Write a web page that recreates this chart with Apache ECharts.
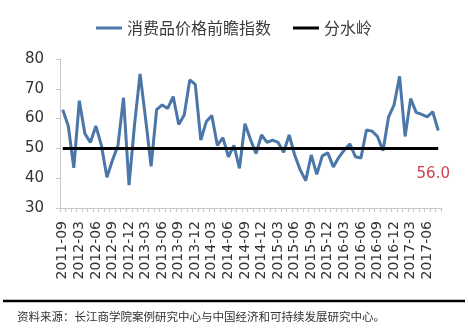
<!DOCTYPE html>
<html>
<head>
<meta charset="utf-8">
<script src="https://cdn.jsdelivr.net/npm/echarts@6/dist/echarts.min.js"></script>
<style>
  html, body { margin: 0; padding: 0; background: #fff; }
  #chart { width: 468px; height: 332px; }
</style>
</head>
<body>
<div id="chart"></div>
<script>
// Month labels along the x axis
const months = [
  '2011-09', '2012-01', '2012-02', '2012-03', '2012-04', '2012-05', '2012-06', '2012-07', '2012-08', '2012-09',
  '2012-10', '2012-11', '2012-12', '2013-01', '2013-02', '2013-03', '2013-04', '2013-05', '2013-06', '2013-07',
  '2013-08', '2013-09', '2013-10', '2013-11', '2013-12', '2014-01', '2014-02', '2014-03', '2014-04', '2014-05',
  '2014-06', '2014-07', '2014-08', '2014-09', '2014-10', '2014-11', '2014-12', '2015-01', '2015-02', '2015-03',
  '2015-04', '2015-05', '2015-06', '2015-07', '2015-08', '2015-09', '2015-10', '2015-11', '2015-12', '2016-01',
  '2016-02', '2016-03', '2016-04', '2016-05', '2016-06', '2016-07', '2016-08', '2016-09', '2016-10', '2016-11',
  '2016-12', '2017-01', '2017-02', '2017-03', '2017-04', '2017-05', '2017-06', '2017-07', '2017-08'
];

// 消费品价格前瞻指数 monthly readings
const priceIndex = [
  63.0, 57.5, 43.5, 66.0, 55.0, 52.0, 57.5, 51.0, 40.3, 46.0,
  51.0, 67.0, 37.7, 58.0, 75.0, 60.0, 44.0, 63.0, 64.6, 63.4,
  67.4, 58.0, 61.2, 73.0, 71.5, 52.8, 59.0, 61.0, 51.0, 53.6,
  47.2, 51.0, 43.3, 58.3, 53.0, 48.3, 54.5, 52.0, 52.8, 52.0,
  48.7, 54.5, 47.8, 42.8, 39.2, 47.8, 41.3, 47.5, 48.5, 43.8,
  47.0, 49.5, 51.5, 47.2, 46.8, 56.2, 55.8, 54.0, 49.2, 60.5,
  64.6, 74.2, 54.0, 66.7, 62.1, 61.4, 60.6, 62.3, 56.0
];

// 分水岭 level
const watershed = 50;

// Y axis ticks
const yTicks = { min: 30, max: 80, step: 10 };

const seriesNames = ['消费品价格前瞻指数', '分水岭'];
const sourceNote = '资料来源：长江商学院案例研究中心与中国经济和可持续发展研究中心。';

const cjk = '"Noto Sans CJK SC", "DejaVu Sans", sans-serif';
const latin = '"DejaVu Sans", "Noto Sans", sans-serif';

// Only the latest reading carries a value label
const lastIdx = priceIndex.length - 1;
const indexData = priceIndex.map((v, i) => i === lastIdx ? {
  value: v,
  label: {
    show: true,
    position: 'inside',
    offset: [-5, 44],
    formatter: p => p.value.toFixed(1),
    color: '#cf4150',
    fontSize: 15,
    fontFamily: latin
  }
} : v);

const chart = echarts.init(document.getElementById('chart'), null, { renderer: 'canvas' });

chart.setOption({
  animation: false,
  backgroundColor: '#ffffff',
  legend: {
    top: 15,
    left: 'center',
    itemGap: 22,
    itemWidth: 26,
    itemHeight: 3,
    textStyle: { fontFamily: cjk, fontSize: 16, color: '#3a3a3a' },
    data: [
      { name: seriesNames[0], icon: 'rect' },
      { name: seriesNames[1], icon: 'rect' }
    ]
  },
  grid: { left: 60, right: 27, top: 59, bottom: 124 },
  xAxis: {
    type: 'category',
    data: months,
    boundaryGap: true,
    axisLine: { lineStyle: { color: '#c8c8c8', width: 1 } },
    axisTick: { show: true, interval: 0, length: 4, lineStyle: { color: '#c8c8c8' } },
    axisLabel: {
      interval: 2,
      rotate: 90,
      margin: 13,
      fontFamily: latin,
      fontSize: 14,
      color: '#333'
    },
    splitLine: { show: false }
  },
  yAxis: {
    type: 'value',
    min: yTicks.min,
    max: yTicks.max,
    interval: yTicks.step,
    axisLine: { show: true, lineStyle: { color: '#c8c8c8', width: 1 } },
    axisTick: { show: true, length: 4, lineStyle: { color: '#c8c8c8' } },
    axisLabel: { margin: 16, fontFamily: latin, fontSize: 15, color: '#333' },
    splitLine: { show: false }
  },
  series: [
    {
      name: seriesNames[0],
      type: 'line',
      data: indexData,
      symbol: 'circle',
      symbolSize: 0,
      showSymbol: true,
      itemStyle: { color: '#4a76a8' },
      lineStyle: { color: '#4a76a8', width: 3 },
      z: 2
    },
    {
      name: seriesNames[1],
      type: 'line',
      data: months.map(() => watershed),
      symbol: 'none',
      itemStyle: { color: '#000' },
      lineStyle: { color: '#000', width: 3 },
      z: 3
    }
  ],
  graphic: [
    {
      type: 'line',
      shape: { x1: 3, y1: 301, x2: 465, y2: 301 },
      style: { stroke: '#000', lineWidth: 2.5 }
    },
    {
      type: 'text',
      left: 17,
      top: 311,
      style: { text: sourceNote, fontFamily: cjk, fontSize: 11.5, fill: '#333' }
    }
  ]
});
</script>
</body>
</html>
